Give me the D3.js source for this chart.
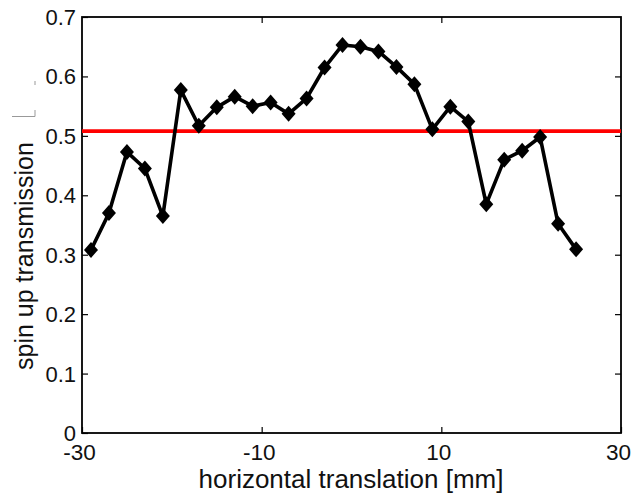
<!DOCTYPE html>
<html>
<head>
<meta charset="utf-8">
<script src="https://cdn.jsdelivr.net/npm/d3@7"></script>
<style>
  html, body { margin: 0; padding: 0; background: #fff; }
  svg { display: block; }
  text { font-family: "Liberation Sans", Arial, sans-serif; fill: #111; }
</style>
</head>
<body>
<svg id="chart" width="635" height="494"></svg>
<script>
// ---- data ----
const xValues = [-29, -27, -25, -23, -21, -19, -17, -15, -13, -11, -9, -7, -5, -3,
                 -1, 1, 3, 5, 7, 9, 11, 13, 15, 17, 19, 21, 23, 25];
const transmission = [0.308, 0.370, 0.473, 0.445, 0.365, 0.577, 0.517, 0.548, 0.566, 0.550,
                      0.556, 0.537, 0.563, 0.615, 0.653, 0.650, 0.642, 0.616, 0.587, 0.511,
                      0.549, 0.524, 0.385, 0.460, 0.475, 0.498, 0.352, 0.309];
const referenceLevel = [0.508];
const xTicks = [-30, -10, 10, 30];
const yTicks = [0, 0.1, 0.2, 0.3, 0.4, 0.5, 0.6, 0.7];
const xTitle = "horizontal translation [mm]";
const yTitle = "spin up transmission";

// ---- layout ----
const mLeft = 82, mRight = 621, mTop = 17, mBottom = 433;
const svg = d3.select("#chart");
const x = d3.scaleLinear().domain([-30, 30]).range([mLeft, mRight]);
const y = d3.scaleLinear().domain([0, 0.7]).range([mBottom, mTop]);
const tickLen = 6;

// box
svg.append("rect").attr("x", mLeft).attr("y", mTop)
  .attr("width", mRight - mLeft).attr("height", mBottom - mTop)
  .attr("fill", "none").attr("stroke", "#000").attr("stroke-width", 1.8);

// bottom axis (ticks inward)
const gx = svg.append("g").attr("transform", `translate(0,${mBottom})`)
  .call(d3.axisBottom(x).tickValues(xTicks).tickFormat(d3.format("d"))
    .tickSizeInner(-tickLen).tickSizeOuter(0));
gx.select(".domain").remove();
gx.selectAll("line").attr("stroke", "#000").attr("stroke-width", 1.2);
gx.selectAll("text").attr("font-size", 22.5).attr("dy", 0).attr("y", 27)
  .attr("dx", -3)
  .text(d => (d < 0 ? "-" + Math.abs(d) : String(d)));

// top axis ticks
const gt = svg.append("g").attr("transform", `translate(0,${mTop})`)
  .call(d3.axisTop(x).tickValues(xTicks.filter(d => d > -30 && d < 30))
    .tickSizeInner(-tickLen).tickSizeOuter(0).tickFormat(""));
gt.select(".domain").remove();
gt.selectAll("line").attr("stroke", "#000").attr("stroke-width", 1.2);

// left axis
const gy = svg.append("g").attr("transform", `translate(${mLeft},0)`)
  .call(d3.axisLeft(y).tickValues(yTicks).tickFormat(d => d === 0 ? "0" : d3.format(".1f")(d))
    .tickSizeInner(-tickLen).tickSizeOuter(0));
gy.select(".domain").remove();
gy.selectAll("line").attr("stroke", "#000").attr("stroke-width", 1.2);
gy.selectAll("text").attr("font-size", 22).attr("x", -6).attr("dy", "0.34em");

// right axis ticks
const gr = svg.append("g").attr("transform", `translate(${mRight},0)`)
  .call(d3.axisRight(y).tickValues(yTicks.filter(d => d > 0 && d < 0.7))
    .tickSizeInner(-tickLen).tickSizeOuter(0).tickFormat(""));
gr.select(".domain").remove();
gr.selectAll("line").attr("stroke", "#000").attr("stroke-width", 1.2);

// reference red line
svg.selectAll(".ref").data(referenceLevel).join("line")
  .attr("class", "ref")
  .attr("x1", mLeft).attr("x2", mRight)
  .attr("y1", d => y(d)).attr("y2", d => y(d))
  .attr("stroke", "#ff0000").attr("stroke-width", 3.6);

// data line
const pts = xValues.map((v, i) => [v, transmission[i]]);
svg.append("path").datum(pts)
  .attr("fill", "none").attr("stroke", "#000").attr("stroke-width", 3.6)
  .attr("stroke-linejoin", "round")
  .attr("d", d3.line().x(d => x(d[0])).y(d => y(d[1])));

// diamond markers
const hw = 7, hh = 8;
svg.selectAll(".mk").data(pts).join("path")
  .attr("class", "mk")
  .attr("transform", d => `translate(${x(d[0])},${y(d[1])})`)
  .attr("d", `M0,${-hh}L${hw},0L0,${hh}L${-hw},0Z`)
  .attr("fill", "#000");

// axis titles
svg.append("text").attr("x", (mLeft + mRight) / 2 - 0.5).attr("y", 488)
  .attr("text-anchor", "middle").attr("font-size", 26).text(xTitle);
svg.append("text").attr("transform", "translate(33,370) rotate(-90)")
  .attr("text-anchor", "start").attr("font-size", 25).text(yTitle);

// small grey remnants near y title
svg.append("path").attr("d", "M12,116.5H35V110").attr("fill", "none")
  .attr("stroke", "#999").attr("stroke-width", 1);
svg.append("path").attr("d", "M35,81V85").attr("fill", "none")
  .attr("stroke", "#999").attr("stroke-width", 1);
</script>
</body>
</html>
